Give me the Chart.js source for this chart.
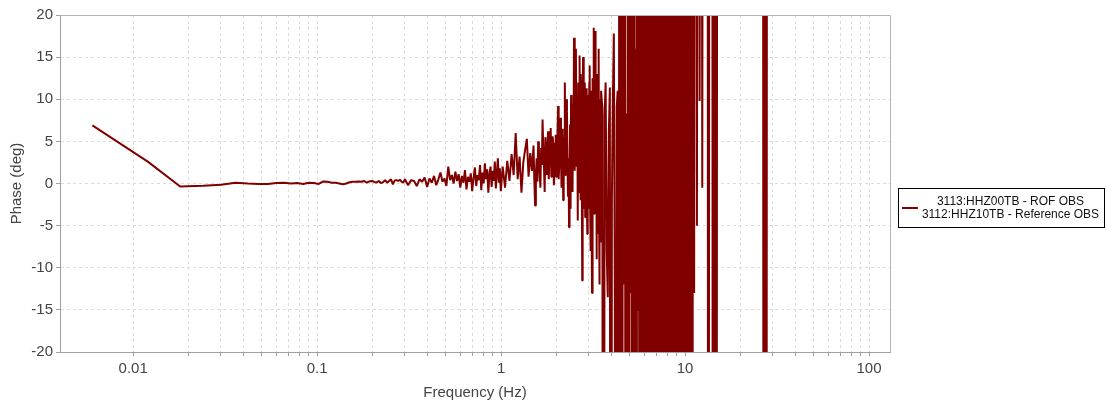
<!DOCTYPE html>
<html>
<head>
<meta charset="utf-8">
<script src="https://cdn.jsdelivr.net/npm/chart.js@4.4.1/dist/chart.umd.min.js"></script>
<style>
  html, body { margin: 0; padding: 0; background: #fff; }
  #wrap { width: 1106px; height: 402px; }
</style>
</head>
<body>
<div id="wrap"><canvas id="phaseChart" width="1106" height="402"></canvas></div>
<script>
"use strict";
/**
 * Phase difference between the two OBS channels, log frequency axis.
 */

// frequency bins (Hz)
const freqHz = [
  0.006,0.012,0.018,0.024,0.030,0.036,0.042,0.048,0.054,0.060,
  0.066,0.072,0.078,0.084,0.090,0.096,0.102,0.108,0.114,0.120,
  0.126,0.132,0.138,0.144,0.150,0.156,0.162,0.168,0.174,0.180,
  0.186,0.192,0.198,0.204,0.210,0.216,0.222,0.228,0.234,0.240,
  0.246,0.252,0.258,0.264,0.270,0.276,0.282,0.288,0.294,0.300,
  0.312,0.324,0.336,0.348,0.360,0.372,0.384,0.396,0.408,0.420,
  0.432,0.444,0.456,0.468,0.480,0.492,0.504,0.516,0.528,0.540,
  0.552,0.564,0.576,0.588,0.600,0.612,0.624,0.636,0.648,0.660,
  0.672,0.684,0.696,0.708,0.720,0.732,0.744,0.756,0.768,0.780,
  0.792,0.804,0.816,0.828,0.840,0.852,0.864,0.876,0.888,0.900,
  0.912,0.924,0.936,0.948,0.960,0.972,0.984,0.996,
  1.02,1.05,1.08,1.11,1.14,1.17,1.20,1.23,1.26,1.29,
  1.32,1.35,1.38,1.41,1.44,1.47,
  1.500,1.515,1.530,1.545,1.560,1.575,1.590,1.605,1.620,1.635,
  1.650,1.665,1.680,1.695,1.710,1.725,1.740,1.755,1.770,1.785,
  1.800,1.815,1.830,1.845,1.860,1.875,1.890,1.905,1.920,1.935,
  1.950,1.965,1.980,1.995,2.010,2.025,2.040,2.055,2.070,2.085,
  2.100,2.115,2.130,2.145,2.160,2.175,2.190,2.205,2.220,2.235,
  2.250,2.265,2.280,2.295,2.310,2.325,2.340,2.355,2.370,2.385,
  2.400,2.415,2.430,2.445,2.460,2.475,2.490,
  2.505,2.520,2.535,2.550,2.565,2.580,2.595,2.610,2.625,2.640,
  2.655,2.670,2.685,2.700,2.715,2.730,2.745,2.760,2.775,2.790,
  2.805,2.820,2.835,2.850,2.865,2.880,2.895,2.910,2.925,2.940,
  2.955,2.970,2.985,3.000,3.015,3.030,3.045,3.060,3.075,3.090,
  3.105,3.120,3.135,3.150,3.165,3.180,3.195,3.210,3.225,3.240,
  3.255,3.270,3.285,3.300,3.315,3.330,3.345,3.360,3.375,3.390,
  3.405,3.420,3.435,3.450,3.465,3.480,3.495,
  3.55,3.60,3.65,3.70,3.75,3.80,3.85,3.90,3.95,4.00,
  4.05,4.10,4.15,4.20,4.25,4.30,4.35,4.40,
  4.45,4.50,4.55,4.60,4.65,4.70,4.75,4.80,4.85,4.90,
  4.95,5.00,5.05,5.10,5.15,5.20,5.25,5.30,5.35,5.40,
  5.45,5.50,5.55,5.60,5.65,5.70,5.75,5.80,5.85,5.90,
  5.95,6.00,6.05,6.10,6.15,6.20,6.25,6.30,6.35,6.40,
  6.45,6.50,6.55,6.60,6.65,6.70,6.75,6.80,6.85,6.90,
  6.95,7.00,7.05,7.10,7.15,7.20,7.25,7.30,7.35,7.40,
  7.45,7.50,7.55,7.60,7.65,7.70,7.75,7.80,7.85,7.90,
  7.95,8.00,8.05,8.10,8.15,8.20,8.25,8.30,8.35,8.40,
  8.45,8.50,8.55,8.60,8.65,8.70,8.75,8.80,8.85,8.90,
  8.95,9.00,9.05,9.10,9.15,9.20,9.25,9.30,9.35,9.40,
  9.45,9.50,9.55,9.60,9.65,9.70,9.75,9.80,9.85,9.90,
  9.95,10.00,10.05,10.10,10.15,10.20,10.25,10.30,10.35,10.40,
  10.45,10.50,10.55,10.60,10.65,10.70,10.75,10.80,10.85,10.90,
  10.95,11.00,
  11.2,11.4,11.6,11.8,12.0,12.2,12.4,12.6,13.2,13.4,
  13.6,14.0,14.2,14.5,14.8,15.0,26.4,26.8,27.2,27.6,
  28.0,40.0,60.0
];

// phase (deg); values past +-20 are wrapped phase, clipped by the axis
const phaseDeg = [
  6.9,2.6,-0.35,-0.28,-0.15,0.1,0.0,-0.05,-0.05,0.05,
  0.1,0.0,0.05,-0.05,0.1,0.05,-0.05,0.25,0.2,0.1,
  0.1,0.0,-0.1,0.0,0.15,0.2,0.2,0.25,0.2,0.3,
  0.1,0.25,0.3,0.2,0.1,0.3,0.05,0.15,0.4,0.1,
  0.3,0.5,-0.1,0.35,0.4,0.3,0.45,0.2,0.1,0.5,
  -0.2,0.4,0.3,-0.3,0.5,0.2,0.7,-0.4,0.6,0.1,
  0.9,-0.2,0.5,1.3,0.2,0.6,-0.3,2.0,0.4,1.0,
  0.0,1.4,0.3,1.1,-0.5,0.9,0.1,1.6,-0.7,0.8,
  0.2,1.2,-0.9,0.6,1.9,-0.3,1.0,0.4,2.2,-0.8,
  1.3,0.0,2.4,0.5,1.7,-1.1,1.1,2.0,-0.4,1.5,
  0.3,2.6,-0.6,1.2,3.0,0.1,1.8,-0.9,
  2.0,-0.5,2.7,0.3,3.5,1.0,6.0,0.5,3.2,-1.1,
  2.5,4.0,5.3,0.8,3.6,1.5,
  4.5,0.5,-2.6,1.0,3.0,0.2,5.0,3.8,1.2,-0.5,
  4.2,2.2,7.6,4.0,2.0,-1.0,5.5,3.5,1.0,4.4,
  6.2,0.5,3.1,4.9,6.6,0.8,2.4,5.6,4.8,-0.2,
  1.2,3.6,5.8,0.8,3.0,6.0,9.2,0.5,2.2,5.0,
  7.8,3.2,-0.5,4.0,6.5,-2.0,2.8,5.5,12.0,1.0,
  4.5,10.0,8.5,2.0,-1.5,3.0,-5.2,1.0,7.0,-3.0,
  10.5,6.0,3.5,-1.0,9.5,4.0,17.3,
  6.0,1.5,10.0,16.0,5.0,2.0,9.0,-4.4,12.0,8.0,
  -1.0,15.2,3.0,-2.0,13.0,10.0,0.0,-11.5,9.0,15.0,
  -3.0,4.0,11.0,12.0,-4.0,-1.0,8.0,11.3,0.5,-6.0,
  10.5,9.0,-3.0,2.0,12.0,14.0,-2.0,-8.0,11.0,7.0,
  -5.0,-13.0,6.0,12.5,1.0,18.5,2.0,-3.6,9.0,18.1,
  -2.0,6.0,12.0,-9.0,5.0,13.0,-6.0,-4.4,10.0,16.0,
  -3.0,-12.0,8.0,10.0,-5.0,-7.0,11.0,
  9.0,-150,8.0,12.0,-8.0,-13.5,6.0,11.4,-150,-2.0,
  10.0,17.8,-13.5,-150,9.0,11.0,-150,150,
  -150,150,-150,150,-12,150,-150,8.3,-150,150,
  -150,150,-13,150,-150,150,-150,150,-150,16,
  -150,150,-15,150,-150,150,-150,150,-150,150,
  -7,13,-150,150,-150,150,-150,150,-14,150,
  -150,150,-150,7.8,-150,150,-150,150,-150,150,
  -150,150,-150,150,-150,15,-150,150,-150,150,
  -150,150,-150,150,-4,150,-150,150,-150,150,
  -150,150,-150,150,-150,150,-150,150,-150,150,
  -150,150,-150,150,-150,150,-150,150,-150,150,
  -150,150,-150,150,-150,150,-150,150,-150,150,
  -150,150,-150,150,-150,150,-150,150,-150,150,
  -150,150,-150,150,-150,150,-150,150,-150,150,
  -150,150,-150,150,-150,150,-150,150,-150,150,
  -150,150,
  -13,150,-5,150,9.8,150,-0.5,150,150,-150,
  150,150,-150,150,-150,150,150,-150,150,-150,
  150,150,150
];

const legendLines = ["3113:HHZ00TB - ROF OBS", "3112:HHZ10TB - Reference OBS"];
const xMajorTicks = [0.01, 0.1, 1, 10, 100];
const xTickLabels = ["0.01", "0.1", "1", "10", "100"];
const yTicks = [-20, -15, -10, -5, 0, 5, 10, 15, 20];

const FONT = "'Liberation Sans', Arial, sans-serif";
const LINE_COLOR = "#800000";

// gridlines at 1..9 x 10^n between the first and last labelled decade
let xGridValues = [];
for(let i = 0; i < xMajorTicks.length; i++){
  for(let k = 1; k <= 9; k++){
    if(i == xMajorTicks.length - 1 && k > 1) break;
    xGridValues.push(Number((k * xMajorTicks[i]).toPrecision(6)));
  }
}

let points = [];
for(let i = 0; i < Math.min(freqHz.length, phaseDeg.length); i++){
  points.push({x: freqHz[i], y: phaseDeg[i]});
}

// plot frame (top/right) and the boxed two-line legend
const frameAndLegend = {
  id: 'frameAndLegend',
  afterDatasetsDraw(chart){
    const a = chart.chartArea;
    const ctx = chart.ctx;
    ctx.save();
    ctx.strokeStyle = '#b4b4b4';
    ctx.lineWidth = 1;
    ctx.beginPath();
    ctx.moveTo(a.left, a.top + 0.5);
    ctx.lineTo(a.right + 0.5, a.top + 0.5);
    ctx.lineTo(a.right + 0.5, a.bottom);
    ctx.stroke();
    ctx.restore();
  },
  afterDraw(chart){
    const ctx = chart.ctx;
    const box = {x: 898.5, y: 188.5, w: 206, h: 39};
    ctx.save();
    ctx.fillStyle = '#fff';
    ctx.fillRect(box.x, box.y, box.w, box.h);
    ctx.strokeStyle = '#000';
    ctx.lineWidth = 1;
    ctx.strokeRect(box.x, box.y, box.w, box.h);
    ctx.strokeStyle = LINE_COLOR;
    ctx.lineWidth = 2;
    ctx.beginPath();
    ctx.moveTo(902, 208);
    ctx.lineTo(918, 208);
    ctx.stroke();
    ctx.fillStyle = '#111';
    ctx.font = "12px " + FONT;
    ctx.textAlign = 'center';
    ctx.textBaseline = 'middle';
    for(let i = 0; i < legendLines.length; i++){
      ctx.fillText(legendLines[i], 1010.5, 201.5 + i * 13);
    }
    ctx.restore();
  }
};

let phaseChart = new Chart(document.getElementById('phaseChart'), {
  type: 'line',
  data: {
    datasets: [{
      label: legendLines.join(' / '),
      data: points,
      borderColor: LINE_COLOR,
      backgroundColor: LINE_COLOR,
      borderWidth: 2,
      borderJoinStyle: 'bevel',
      pointRadius: 0,
      tension: 0,
      fill: false
    }]
  },
  options: {
    responsive: false,
    animation: false,
    devicePixelRatio: 1,
    layout: {padding: {left: 0, right: 216, top: 15, bottom: 0}},
    plugins: {
      legend: {display: false},
      tooltip: {enabled: false}
    },
    scales: {
      x: {
        type: 'logarithmic',
        position: 'bottom',
        min: 0.004,
        max: 130,
        afterBuildTicks: (scale) => {
          scale.ticks = xGridValues.map(v => ({value: v}));
        },
        afterFit: (scale) => { scale.height = 50; },
        ticks: {
          autoSkip: false,
          maxRotation: 0,
          padding: 4,
          color: '#444',
          font: {family: FONT, size: 15},
          callback: (v) => {
            let idx = xMajorTicks.findIndex(t => Math.abs(t - v) / t < 1e-6);
            return idx >= 0 ? xTickLabels[idx] : '';
          }
        },
        grid: {color: '#dcdcdc', tickColor: '#a0a0a0', tickLength: 4},
        border: {display: true, color: '#a0a0a0', dash: [3, 3]},
        title: {
          display: true,
          text: 'Frequency (Hz)',
          color: '#444',
          font: {family: FONT, size: 15},
          padding: {top: 2, bottom: 0}
        }
      },
      y: {
        type: 'linear',
        min: yTicks[0],
        max: yTicks[yTicks.length - 1],
        afterBuildTicks: (scale) => {
          scale.ticks = yTicks.map(v => ({value: v}));
        },
        afterFit: (scale) => { scale.width = 60; },
        ticks: {
          padding: 3,
          color: '#444',
          font: {family: FONT, size: 15}
        },
        grid: {color: '#dcdcdc', tickColor: '#a0a0a0', tickLength: 4},
        border: {display: true, color: '#a0a0a0', dash: [3, 3]},
        title: {
          display: true,
          text: 'Phase (deg)',
          color: '#444',
          font: {family: FONT, size: 15},
          padding: {top: 8, bottom: 0}
        }
      }
    }
  },
  plugins: [frameAndLegend]
});
</script>
</body>
</html>
